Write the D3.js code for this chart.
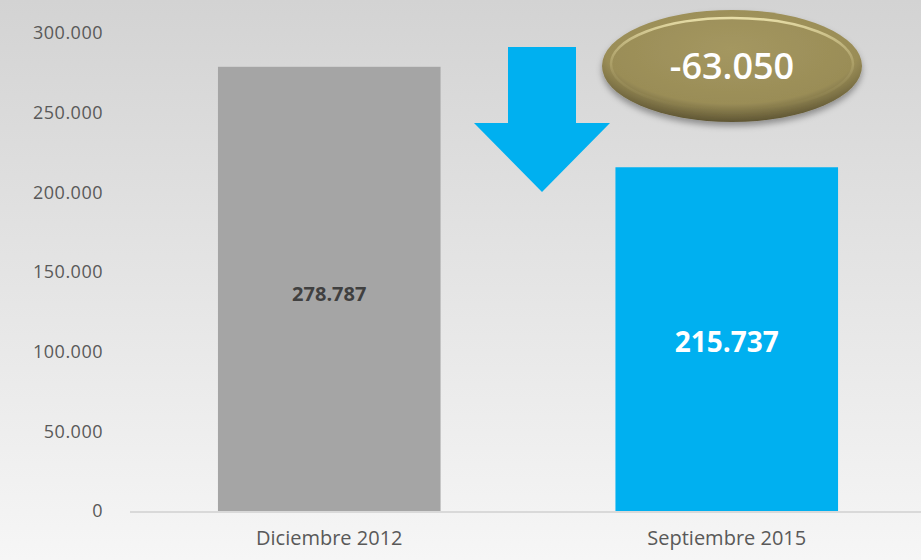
<!DOCTYPE html>
<html>
<head>
<meta charset="utf-8">
<script src="https://cdn.jsdelivr.net/npm/d3@7"></script>
<style>
  html, body { margin: 0; padding: 0; }
  svg { display: block; font-family: "Open Sans", Lato, sans-serif; }
</style>
</head>
<body>
<svg width="921" height="560"></svg>
<script>
const categories = ['Diciembre 2012', 'Septiembre 2015'];
const values = [278787, 215737];
const barColors = ['#a5a5a5', '#00b0f0'];
const yTicks = [0, 50000, 100000, 150000, 200000, 250000, 300000];

const svg = d3.select('svg');
const width = +svg.attr('width');
const height = +svg.attr('height');

const locale = d3.formatLocale({ decimal: ',', thousands: '.', grouping: [3], currency: ['', ''], minus: '-' });
const fmt = locale.format(',d');

// fondo degradado
const defs = svg.append('defs');
const bg = defs.append('linearGradient').attr('id', 'bg').attr('x1', 0).attr('y1', 0).attr('x2', 0).attr('y2', 1);
bg.append('stop').attr('offset', '0%').attr('stop-color', '#d3d3d3');
bg.append('stop').attr('offset', '100%').attr('stop-color', '#f6f6f6');

const oval = defs.append('radialGradient').attr('id', 'oval').attr('cx', '50%').attr('cy', '35%').attr('r', '65%');
oval.append('stop').attr('offset', '0%').attr('stop-color', '#a49760');
oval.append('stop').attr('offset', '75%').attr('stop-color', '#9a8d57');
oval.append('stop').attr('offset', '100%').attr('stop-color', '#5e5533');

const rim = defs.append('linearGradient').attr('id', 'rim').attr('x1', 0).attr('y1', 0).attr('x2', 0).attr('y2', 1);
rim.append('stop').attr('offset', '0%').attr('stop-color', '#efe6b0').attr('stop-opacity', 0.9);
rim.append('stop').attr('offset', '60%').attr('stop-color', '#c9bd84').attr('stop-opacity', 0.2);
rim.append('stop').attr('offset', '100%').attr('stop-color', '#c9bd84').attr('stop-opacity', 0);

const shadow = defs.append('filter').attr('id', 'shadow').attr('x', '-20%').attr('y', '-20%').attr('width', '140%').attr('height', '150%');
shadow.append('feDropShadow').attr('dx', 0).attr('dy', 4).attr('stdDeviation', 3).attr('flood-color', '#000').attr('flood-opacity', 0.35);

svg.append('rect').attr('width', width).attr('height', height).attr('fill', 'url(#bg)');

const x = d3.scaleBand().domain(categories).range([130.5, 925.5]).paddingInner(0.44).paddingOuter(0.22);
const y = d3.scaleLinear().domain([0, 300000]).range([511, 33]);

// eje Y
const yAxis = svg.append('g')
  .attr('transform', 'translate(103,0)')
  .call(d3.axisLeft(y).tickValues(yTicks).tickFormat(fmt).tickSize(0).tickPadding(0))
  .attr('font-family', null).attr('font-size', null);
yAxis.select('.domain').remove();
yAxis.selectAll('text').attr('fill', '#595959').style('font-size', '18px').style('letter-spacing', '0.5px').attr('dy', '0.32em');

// barras
svg.selectAll('.bar').data(values).join('rect')
  .attr('class', 'bar')
  .attr('x', (d, i) => x(categories[i]))
  .attr('width', x.bandwidth())
  .attr('y', d => y(d))
  .attr('height', d => y(0) - y(d))
  .attr('fill', (d, i) => barColors[i]);

// línea base
svg.append('line').attr('x1', 130).attr('x2', width).attr('y1', y(0) + 1).attr('y2', y(0) + 1)
  .attr('stroke', '#d9d9d9').attr('stroke-width', 2);

// eje X
const xAxis = svg.append('g')
  .attr('transform', `translate(0,${y(0)})`)
  .call(d3.axisBottom(x).tickSize(0).tickPadding(0))
  .attr('font-family', null).attr('font-size', null);
xAxis.select('.domain').remove();
xAxis.selectAll('text').attr('fill', '#595959').style('font-size', '20px').attr('dy', '1.7em');

// etiquetas de valor
svg.append('text')
  .attr('x', x(categories[0]) + x.bandwidth() / 2).attr('y', 301)
  .attr('text-anchor', 'middle').attr('fill', '#404040')
  .style('font-size', '20px').style('font-weight', 'bold')
  .text(fmt(values[0]));

svg.append('text')
  .attr('x', x(categories[1]) + x.bandwidth() / 2).attr('y', 352)
  .attr('text-anchor', 'middle').attr('fill', '#ffffff')
  .style('font-size', '28px').style('font-weight', 'bold')
  .text(fmt(values[1]));

// flecha
const ax = 542;
svg.append('path')
  .attr('d', `M${ax - 34},47 L${ax + 34},47 L${ax + 34},123 L${ax + 68},123 L${ax},192 L${ax - 68},123 L${ax - 34},123 Z`)
  .attr('fill', '#00b0f0');

// óvalo con la diferencia
const og = svg.append('g').attr('transform', 'translate(732,66)');
og.append('ellipse').attr('rx', 130).attr('ry', 56).attr('fill', 'url(#oval)').attr('filter', 'url(#shadow)');
og.append('ellipse').attr('rx', 121).attr('ry', 46).attr('cy', -2)
  .attr('fill', 'none').attr('stroke', 'url(#rim)').attr('stroke-width', 2.5);
og.append('text').attr('y', 13).attr('text-anchor', 'middle').attr('fill', '#ffffff')
  .style('font-size', '36px').style('font-weight', 600)
  .text(fmt(values[1] - values[0]));
</script>
</body>
</html>
